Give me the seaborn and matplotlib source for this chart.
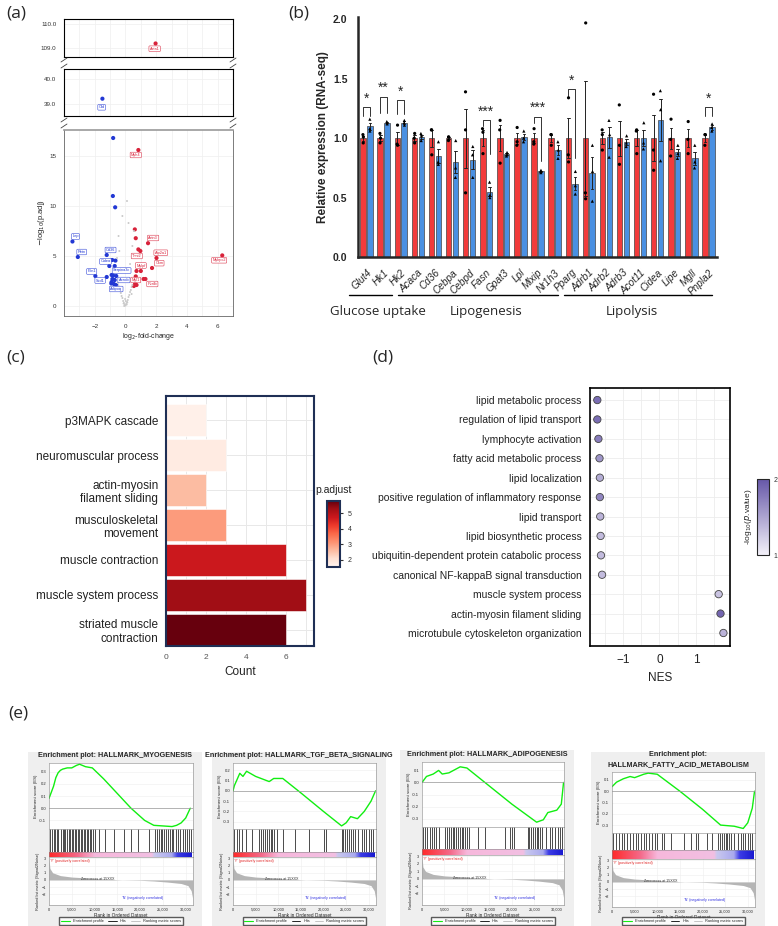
import numpy as np
import pandas as pd
import seaborn as sns
import matplotlib.pyplot as plt
from matplotlib.colors import LinearSegmentedColormap, Normalize
from matplotlib.cm import ScalarMappable
from matplotlib.lines import Line2D
from matplotlib.ticker import FormatStrFormatter, MultipleLocator

sns.set_style('white')
plt.rcParams['font.family'] = ['Liberation Sans', 'DejaVu Sans']

W, H = 778, 926


def box(x0, y0, x1, y1):
    # pixel box (top-left origin) -> figure fraction rect
    return [x0 / W, 1 - y1 / H, (x1 - x0) / W, (y1 - y0) / H]


# ---------------- (a) volcano data ----------------
down_x = [-0.8, -0.82, -0.67, -3.45, -3.1, -1.22, -0.86, -0.65, -1.05, -0.7, -1.96, -1.22,
          -0.9, -0.8, -0.6, -0.85, -0.7, -0.9, -0.75, -0.6, -0.92, -1.5]
down_y = [16.8, 11.0, 9.87, 6.45, 4.9, 5.1, 4.6, 4.54, 4.0, 4.0, 3.0, 2.9,
          3.1, 3.05, 3.0, 2.7, 2.6, 2.4, 2.2, 2.1, 2.25, 39.2]
up_x = [1.96, 0.84, 0.61, 0.67, 1.47, 0.84, 0.97, 2.02, 1.73, 0.72, 1.0, 0.67,
        1.18, 1.3, 0.63, 0.72, 0.55, 6.3]
up_y = [109.17, 15.6, 7.66, 6.78, 6.28, 5.66, 5.5, 4.8, 3.8, 3.5, 3.5, 2.96,
        2.7, 2.7, 2.24, 2.1, 2.0, 5.06]
ns_x = [-0.05, 0.05, -0.1, 0.1, -0.15, 0.15, -0.2, 0.2, -0.25, 0.25, -0.3, 0.3, -0.35, 0.35,
        -0.4, 0.4, -0.45, 0.45, -0.5, 0.5, 0.0, 0.02, -0.02, -0.3, 0.3, -0.4, 0.45, -0.55,
        0.55, 0.2, -0.2, 0.1, -0.45, 0.4, -0.08, 0.08, -0.12, 0.12]
ns_y = [0.1, 0.2, 0.3, 0.4, 0.5, 0.6, 0.8, 0.9, 1.0, 1.1, 1.3, 1.4, 1.5, 1.6,
        1.8, 1.9, 2.0, 2.1, 2.3, 2.4, 0.05, 0.5, 0.7, 3.5, 4.2, 5.5, 6.0, 4.8,
        7.5, 8.3, 9.0, 10.5, 7.0, 1.2, 0.0, 0.15, 0.25, 0.35]
lab_text = ['Acta1', 'Cfd', 'Lep', 'Retn', 'Cd36', 'Cidea', 'Plin1', 'Scd1', 'Serpina3c',
            'Acacb', 'Adipoq', 'Myh4', 'Actn3', 'Tnni2', 'Atp2a1', 'Mylpf', 'Ckm', 'Myl1',
            'Pvalb', 'Mybpc2']
lab_x = [1.9, -1.55, -3.25, -2.85, -0.97, -1.3, -2.2, -1.65, -0.25, -0.1, -0.6, 0.67, 1.8,
         0.74, 2.3, 1.0, 2.2, 0.67, 1.75, 6.1]
lab_y = [108.95, 38.85, 6.95, 5.4, 5.6, 4.45, 3.45, 2.55, 3.55, 2.6, 1.7, 15.1, 6.8, 5.0,
         5.33, 4.05, 4.28, 2.6, 2.2, 4.57]
lab_up = [True, False] + [False] * 9 + [True] * 9

# ---------------- (b) RNA-seq expression ----------------
genes = ['Glut4', 'Hk1', 'Hk2', 'Acaca', 'Cd36', 'Cebpa', 'Cebpd', 'Fasn', 'Gpat3', 'Lpl',
         'Mlxip', 'Nr1h3', 'Pparg', 'Adrb1', 'Adrb2', 'Adrb3', 'Acot11', 'Cidea', 'Lipe',
         'Mgll', 'Pnpla2']
ctrl_reps = [[0.96, 1.01, 1.03], [0.96, 1.0, 1.04], [0.94, 0.95, 1.11], [0.96, 1.0, 1.04],
             [0.86, 1.07, 1.07], [0.98, 1.01, 1.01], [0.54, 1.07, 1.39], [0.87, 1.05, 1.08],
             [0.79, 1.07, 1.15], [0.97, 0.94, 1.09], [0.95, 0.97, 1.08], [0.94, 1.03, 1.03],
             [0.8, 0.86, 1.34], [0.49, 0.54, 1.97], [0.9, 1.03, 1.07], [0.78, 0.94, 1.28],
             [0.87, 1.06, 1.07], [0.73, 0.9, 1.37], [0.85, 0.99, 1.16], [0.87, 0.99, 1.14],
             [0.94, 1.03, 1.03]]
trt_reps = [[1.06, 1.08, 1.16], [1.12, 1.13, 1.14], [1.11, 1.13, 1.15], [0.98, 1.02, 1.04],
            [0.78, 0.8, 0.97], [0.67, 0.75, 0.98], [0.67, 0.86, 0.93], [0.5, 0.52, 0.63],
            [0.85, 0.86, 0.88], [0.97, 1.0, 1.06], [0.71, 0.72, 0.73], [0.83, 0.9, 0.97],
            [0.53, 0.6, 0.72], [0.47, 0.72, 0.94], [0.84, 1.03, 1.15], [0.93, 0.96, 1.02],
            [0.91, 0.96, 1.13], [0.81, 1.24, 1.40], [0.83, 0.87, 0.94], [0.75, 0.8, 0.94],
            [1.06, 1.09, 1.12]]
sig_idx = [0, 1, 2, 7, 10, 12, 20]
sig_text = ['*', '**', '*', '***', '***', '*', '*']
sig_top = [1.26, 1.35, 1.32, 1.15, 1.18, 1.41, 1.26]
sig_left = [1.19, 1.21, 1.2, 1.1, 1.13, 1.35, 1.19]
sig_right = [1.19, 1.21, 1.2, 0.87, 0.81, 0.83, 1.19]
group_names = ['Glucose uptake', 'Lipogenesis', 'Lipolysis']

# ---------------- (c) GO enrichment ----------------
go_terms = ['p3MAPK cascade', 'neuromuscular process', 'actin-myosin\nfilament sliding',
            'musculoskeletal\nmovement', 'muscle contraction', 'muscle system process',
            'striated muscle\ncontraction']
go_count = [2, 3, 2, 3, 6, 7, 6]
go_padj = [1.68, 1.8, 2.6, 3.03, 4.7, 5.26, 5.77]

# ---------------- (d) GSEA dot plot ----------------
gs_terms = ['lipid metabolic process', 'regulation of lipid transport', 'lymphocyte activation',
            'fatty acid metabolic process', 'lipid localization',
            'positive regulation of inflammatory response', 'lipid transport',
            'lipid biosynthetic process', 'ubiquitin-dependent protein catabolic process',
            'canonical NF-kappaB signal transduction', 'muscle system process',
            'actin-myosin filament sliding', 'microtubule cytoskeleton organization']
gs_nes = [-1.70, -1.70, -1.67, -1.64, -1.63, -1.63, -1.62, -1.61, -1.60, -1.57, 1.62, 1.67, 1.75]
gs_logp = [1.85, 1.85, 1.75, 1.6, 1.45, 1.7, 1.4, 1.35, 1.35, 1.35, 1.3, 1.9, 1.4]

# ---------------- (e) GSEA enrichment plots ----------------
gsea_titles = ['Enrichment plot: HALLMARK_MYOGENESIS',
               'Enrichment plot: HALLMARK_TGF_BETA_SIGNALING',
               'Enrichment plot: HALLMARK_ADIPOGENESIS',
               'Enrichment plot:\nHALLMARK_FATTY_ACID_METABOLISM']
es_rank = [
    [0, 500, 1000, 1500, 2000, 2500, 3000, 4000, 5000, 6000, 6700, 8000, 9500, 12000, 15000,
     18000, 21000, 23000, 25000, 27000, 28000, 29000, 30000, 31000],
    [0, 300, 800, 1500, 2200, 3000, 5000, 8000, 9000, 11000, 15000, 20000, 24000, 25000, 26000,
     27500, 29000, 30500, 31500],
    [0, 1000, 2500, 3700, 4500, 6000, 8500, 10000, 15000, 20000, 25500, 27000, 28000, 30000,
     31000, 31500],
    [0, 1000, 2500, 4000, 5000, 7000, 8000, 10000, 15000, 20000, 24000, 27000, 29000, 30000,
     31000, 31500]]
es_score = [
    [0.08, 0.13, 0.18, 0.25, 0.29, 0.31, 0.32, 0.33, 0.33, 0.35, 0.36, 0.34, 0.33, 0.24, 0.12,
     0.0, -0.1, -0.14, -0.145, -0.15, -0.14, -0.12, -0.08, 0.0],
    [0.0, 0.05, 0.1, 0.17, 0.14, 0.19, 0.14, 0.09, 0.12, 0.12, -0.02, -0.2, -0.34, -0.31, -0.25,
     -0.27, -0.2, -0.1, 0.0],
    [0.0, 0.05, 0.07, 0.1, 0.07, 0.08, 0.13, 0.12, -0.03, -0.18, -0.33, -0.31, -0.25, -0.23,
     -0.18, 0.0],
    [0.04, 0.08, 0.11, 0.13, 0.12, 0.15, 0.16, 0.15, 0.0, -0.16, -0.3, -0.31, -0.33, -0.28,
     -0.15, 0.0]]
hits = [
    [150, 700, 1000, 1400, 1700, 2000, 2600, 3000, 3300, 3600, 4000, 4300, 4700, 5000, 5300,
     5600, 6000, 6300, 6600, 7000, 7300, 7600, 8000, 8300, 8600, 9000, 9300, 9700, 10100, 11000,
     12300, 14200, 16500, 18000, 19500, 22000, 23300, 23700, 24100, 24500, 24900, 25300, 25700,
     26100, 26500, 26900, 27300, 27800, 28300, 28800, 29300, 29800, 30300, 30800, 31200],
    [300, 800, 1400, 2000, 2800, 4300, 5800, 6200, 6700, 7100, 7500, 7900, 8300, 8700, 9100,
     9800, 11000, 13700, 16800, 20000, 20500, 24000, 24400, 24800, 25200, 25600, 26000, 26500,
     27000, 27600, 28500, 29000, 29500, 30000, 30500, 31000],
    [200, 700, 1200, 1700, 2200, 2700, 3200, 3700, 5200, 5600, 6000, 6400, 6800, 7200, 7600,
     8000, 8400, 8800, 9200, 9600, 10000, 10400, 12500, 14000, 18500, 19500, 20000, 20500,
     23500, 23900, 24300, 24700, 25100, 25500, 25900, 26300, 26700, 27500, 28500, 29000, 29500,
     30200, 30800, 31200],
    [300, 800, 1500, 2200, 2700, 3300, 3900, 4600, 5200, 5800, 6400, 7000, 7600, 8200, 8800,
     9400, 10000, 11000, 11500, 13000, 16000, 17500, 18500, 19000, 21000, 22000, 23500, 23900,
     24300, 24700, 25100, 25500, 25900, 26300, 27000, 27800, 28500, 29000, 29500, 30000, 30500,
     31000]]
es_ticks = [[-0.1, 0.0, 0.1, 0.2, 0.3], [-0.3, -0.2, -0.1, 0.0, 0.1, 0.2],
            [-0.3, -0.2, -0.1, 0.0, 0.1], [-0.3, -0.2, -0.1, 0.0, 0.1]]
metric_rank = [0, 200, 800, 2500, 5000, 9000, 13000, 16000, 20000, 23000, 26000, 29000, 30500,
               31200, 31500]
metric_val = [3.0, 1.6, 1.0, 0.6, 0.4, 0.25, 0.1, 0.0, -0.05, -0.15, -0.3, -0.5, -0.8, -1.5, -2.5]

# =====================================================================
fig = plt.figure(figsize=(W / 100, H / 100), dpi=100)

# ---------------- (a) ----------------
volc = pd.DataFrame({
    'lfc': down_x + up_x + ns_x,
    'nlp': down_y + up_y + ns_y,
    'dir': ['down'] * len(down_x) + ['up'] * len(up_x) + ['ns'] * len(ns_x)})
seg_boxes = [(64, 19, 233, 57), (64, 69, 233, 116), (64, 130, 233, 316)]
seg_lims = [(108.6, 110.2), (38.5, 40.4), (-1.0, 17.6)]
seg_ticks = [[109, 110], [39, 40], [0, 5, 10, 15]]
for k, (bx, lim, tk) in enumerate(zip(seg_boxes, seg_lims, seg_ticks)):
    ax = fig.add_axes(box(*bx))
    sns.scatterplot(data=volc, x='lfc', y='nlp', hue='dir', size='dir',
                    palette={'down': '#2238d4', 'up': '#d8223a', 'ns': '#c9c9c9'},
                    sizes={'down': 9, 'up': 9, 'ns': 2}, linewidth=0, legend=False, ax=ax)
    ax.set_xlim(-4.0, 7.0)
    ax.set_ylim(*lim)
    ax.set_yticks(tk)
    ax.xaxis.set_major_locator(MultipleLocator(2))
    ax.xaxis.set_minor_locator(MultipleLocator(1))
    ax.grid(True, which='both', color='#efefef', lw=0.5)
    ax.set_axisbelow(True)
    ax.tick_params(labelsize=4.5, colors='#333', length=2, width=0.5)
    ax.set_xlabel('')
    ax.set_ylabel('')
    if k < 2:
        ax.yaxis.set_major_formatter(FormatStrFormatter('%.1f'))
        ax.tick_params(axis='x', bottom=False, labelbottom=False)
        for s in ax.spines.values():
            s.set_color('k')
            s.set_linewidth(0.8)
    else:
        ax.set_xticks([-2, 0, 2, 4, 6])
        for s in ax.spines.values():
            s.set_color('#666')
            s.set_linewidth(0.6)
        ax.spines['top'].set_color('#999')
        ax.spines['top'].set_linewidth(1.2)
        ax.set_xlabel('log$_2$-fold-change', fontsize=5, labelpad=2)
        ax.set_ylabel('$-$log$_{10}$(p.adj)', fontsize=5.5, labelpad=2)
    for t, x, y, u in zip(lab_text, lab_x, lab_y, lab_up):
        if lim[0] < y < lim[1]:
            col = '#d8223a' if u else '#2238d4'
            ax.text(x, y, t, fontsize=2.8, color=col, ha='center', va='center',
                    bbox=dict(boxstyle='round,pad=0.2', fc='white', ec=col, lw=0.4, alpha=0.9))
# axis break marks
for yb in (63, 123):
    for xb in (64, 233):
        for dy in (-3, 3):
            fig.add_artist(Line2D([(xb - 3) / W, (xb + 3) / W],
                                  [1 - (yb + dy + 2) / H, 1 - (yb + dy - 2) / H],
                                  color='#444', lw=0.6))

# ---------------- (b) ----------------
rows = []
for g, c, t in zip(genes, ctrl_reps, trt_reps):
    rows += [(g, 'Control', v) for v in c]
    rows += [(g, 'Treated', v) for v in t]
expr = pd.DataFrame(rows, columns=['gene', 'group', 'value'])
hue_order = ['Control', 'Treated']
axb = fig.add_axes(box(358, 17, 717, 257))
sns.barplot(data=expr, x='gene', y='value', hue='group', hue_order=hue_order,
            palette={'Control': '#f23b3b', 'Treated': '#4a90e2'}, errorbar='se',
            capsize=0.3, err_kws={'linewidth': 0.7, 'color': '#222'}, edgecolor='#444',
            linewidth=0.5, width=0.8, gap=0.2, saturation=1, legend=False, ax=axb)
for grp, mk in zip(hue_order, ['o', '^']):
    sns.stripplot(data=expr[expr.group == grp], x='gene', y='value', hue='group',
                  hue_order=hue_order, dodge=True, palette={'Control': 'k', 'Treated': 'k'},
                  marker=mk, size=2.3, jitter=0.04, legend=False, ax=axb)
for i, st, top, le, ri in zip(sig_idx, sig_text, sig_top, sig_left, sig_right):
    axb.plot([i - 0.2, i - 0.2, i + 0.2, i + 0.2], [le, top, top, ri], color='#333', lw=0.7)
    axb.text(i, top + 0.015, st, ha='center', va='bottom', fontsize=10)
axb.set_xlim(-0.5, 20.5)
axb.set_ylim(0, 2.02)
axb.set_yticks([0, 0.5, 1.0, 1.5, 2.0])
axb.yaxis.set_major_formatter(FormatStrFormatter('%.1f'))
for lb in axb.get_yticklabels():
    lb.set_fontweight('bold')
axb.set_xticks(range(len(genes)))
axb.set_xticklabels(genes, rotation=45, ha='right', rotation_mode='anchor',
                    fontsize=7.2, fontstyle='italic')
axb.tick_params(axis='y', labelsize=7.5, width=1.5, length=4)
axb.tick_params(axis='x', width=1.2, length=4)
axb.set_xlabel('')
axb.set_ylabel('Relative expression (RNA-seq)', fontsize=8.5, fontweight='bold', labelpad=3)
sns.despine(ax=axb)
for s in ('left', 'bottom'):
    axb.spines[s].set_linewidth(1.8)
trans = axb.get_xaxis_transform()
for name, (a0, a1), xc in zip(group_names, [(-1.0, 1.5), (1.85, 11.2), (11.55, 20.2)],
                               [0.67, 7.0, 15.5]):
    axb.plot([a0, a1], [-0.158, -0.158], color='k', lw=1.0, transform=trans, clip_on=False)
    axb.text(xc, -0.2, name, transform=trans, ha='center', va='top', fontsize=9.5,
             family=['Open Sans', 'DejaVu Sans'])

# ---------------- (c) ----------------
navy = '#1f2f55'
reds = plt.get_cmap('Reds')
norm_c = Normalize(1.55, 5.77)
go = pd.DataFrame({'term': go_terms, 'count': go_count, 'padj': go_padj})
axc = fig.add_axes(box(166, 396, 314, 646))
sns.barplot(data=go, x='count', y='term', hue='term',
            palette={t: reds(norm_c(p)) for t, p in zip(go_terms, go_padj)},
            width=0.9, legend=False, edgecolor='white', linewidth=0.4, saturation=1, ax=axc)
axc.set_xlim(0, 7.4)
axc.set_ylim(6.46, -0.69)
axc.set_xticks([0, 2, 4, 6])
axc.xaxis.set_minor_locator(MultipleLocator(1))
axc.grid(True, which='both', color='#e8e8e8', lw=0.7)
axc.set_axisbelow(True)
axc.tick_params(axis='y', labelsize=8.5, labelcolor='#222', length=2, color='#bbb')
axc.tick_params(axis='x', labelsize=6, labelcolor='#555', length=2, color='#bbb')
axc.set_ylabel('')
axc.set_xlabel('Count', fontsize=8.5, color='#222')
for s in axc.spines.values():
    s.set_color(navy)
    s.set_linewidth(1.5)
caxc = fig.add_axes(box(327, 501, 340, 567))
cbc = fig.colorbar(ScalarMappable(norm_c, reds), cax=caxc, ticks=[2, 3, 4, 5])
cbc.ax.tick_params(labelsize=5, length=2, colors='#333')
cbc.outline.set_edgecolor(navy)
cbc.outline.set_linewidth(1.5)
fig.text(333 / W, 1 - 490 / H, 'p.adjust', ha='center', va='center', fontsize=7.5, color='#222')

# ---------------- (d) ----------------
purp = LinearSegmentedColormap.from_list('purp', ['#f3f1f9', '#6657a8'])
norm_d = Normalize(1, 2)
gs = pd.DataFrame({'term': gs_terms, 'NES': gs_nes, 'logp': gs_logp})
axd = fig.add_axes(box(590, 388, 730, 646))
sns.scatterplot(data=gs, x='NES', y='term', hue='logp', palette=purp, hue_norm=norm_d,
                s=28, edgecolor='#444', linewidth=0.6, legend=False, ax=axd)
axd.set_xlim(-1.9, 1.93)
axd.set_ylim(12.67, -0.62)
axd.set_xticks([-1, 0, 1])
axd.set_xticklabels(['\u22121', '0', '1'])
axd.xaxis.set_minor_locator(MultipleLocator(0.5))
axd.grid(True, which='both', color='#ececec', lw=0.6)
axd.set_axisbelow(True)
axd.tick_params(axis='y', labelsize=7.5, labelcolor='#222', length=2.5, width=0.8)
axd.tick_params(axis='x', labelsize=8.5, labelcolor='#222', length=2.5, width=0.8)
axd.set_ylabel('')
axd.set_xlabel('NES', fontsize=8.5, color='#222')
for s in axd.spines.values():
    s.set_color('k')
    s.set_linewidth(1.2)
caxd = fig.add_axes(box(757, 479, 769, 555))
cbd = fig.colorbar(ScalarMappable(norm_d, purp), cax=caxd, ticks=[1, 2])
cbd.ax.tick_params(labelsize=5, length=0, colors='#333')
cbd.outline.set_linewidth(0.8)
caxd.yaxis.set_label_position('left')
cbd.set_label('-log$_{10}$($p$.value)', fontsize=6, labelpad=2, rotation=90)

# ---------------- (e) ----------------
gsea_bg = [(28, 752, 202, 926), (212, 752, 386, 926), (400, 750, 574, 926), (591, 752, 765, 926)]
gsea_lay = [(49, 193, 763, 829, 852, 857, 905), (233, 376, 763, 829, 852, 857, 905),
            (422, 564, 762, 827, 849, 855, 905), (612, 755, 772, 833, 850, 859, 907)]
rank_cmap = LinearSegmentedColormap.from_list(
    'rank', [(0, '#ff2a2a'), (0.2, '#f46a8a'), (0.32, '#f7b8dc'), (0.72, '#f2bfe2'),
             (0.74, '#c9c8ee'), (0.86, '#a9a9ee'), (0.9, '#3c3ce6'), (1.0, '#1a1ad0')])
XMAX = 31600
for k in range(4):
    bx0, by0, bx1, by1 = gsea_bg[k]
    x0, x1, yt, ye, yh, yc, ym = gsea_lay[k]
    fig.add_artist(plt.Rectangle((bx0 / W, 1 - by1 / H), (bx1 - bx0) / W, (by1 - by0) / H,
                                 transform=fig.transFigure, fc='#efefef', ec='none', zorder=-1))
    fig.text((bx0 + bx1) / 2 / W, 1 - (yt - 4) / H, gsea_titles[k], ha='center', va='bottom',
             fontsize=5.2, fontweight='bold', linespacing=1.6)
    # ES curve
    ae = fig.add_axes(box(x0, yt, x1, ye))
    sns.lineplot(x=es_rank[k], y=es_score[k], color='#11ee11', lw=1.0, ax=ae)
    ae.axhline(0, color='#999', lw=0.5)
    ae.set_xlim(0, XMAX)
    lo, hi = min(es_ticks[k]), max(es_ticks[k])
    ae.set_ylim(lo - 0.07, hi + 0.07)
    ae.set_yticks(es_ticks[k])
    ae.yaxis.set_major_formatter(FormatStrFormatter('%.1f'))
    ae.set_xticks([])
    ae.grid(True, axis='y', color='#eeeeee', lw=0.4)
    ae.tick_params(labelsize=3, length=1, pad=1)
    ae.set_ylabel('Enrichment score (ES)', fontsize=3.2, labelpad=1)
    # hits
    ah = fig.add_axes(box(x0, ye, x1, yh))
    ah.vlines(hits[k], 0, 1, color='#1a1a1a', lw=0.55)
    ah.set_xlim(0, XMAX)
    ah.set_ylim(0, 1)
    ah.set_xticks([])
    ah.set_yticks([])
    # ranking colour bar
    ac = fig.add_axes(box(x0, yh, x1, yc))
    ac.imshow(np.linspace(0, 1, 256)[None, :], aspect='auto', cmap=rank_cmap,
              extent=(0, 31300, 0, 1))
    ac.set_xlim(0, XMAX)
    ac.set_xticks([])
    ac.set_yticks([])
    # ranked list metric
    am = fig.add_axes(box(x0, yc, x1, ym))
    am.fill_between(metric_rank, metric_val, 0, color='#b5b5b5', lw=0)
    am.set_xlim(0, XMAX)
    am.set_ylim(-3.5, 3.2)
    am.set_yticks([3, 2, 1, 0, -1, -2])
    am.set_xticks([0, 5000, 10000, 15000, 20000, 25000, 30000])
    am.set_xticklabels(['0', '5,000', '10,000', '15,000', '20,000', '25,000', '30,000'])
    am.grid(True, color='#eeeeee', lw=0.4)
    am.tick_params(labelsize=2.8, length=1, pad=1)
    am.set_xlabel('Rank in Ordered Dataset', fontsize=3.4, labelpad=1)
    am.set_ylabel('Ranked list metric (Signal2Noise)', fontsize=2.8, labelpad=1)
    am.text(300, 2.9, "'Y' (positively correlated)", fontsize=2.6, color='#e02020', va='top')
    am.text(7000, 0.1, 'Zero cross at 15XXX', fontsize=2.6, color='#333', va='center')
    am.text(16000, -2.5, "'N' (negatively correlated)", fontsize=2.6, color='#3030e0',
            va='center')
    for a in (ae, ah, ac, am):
        for s in a.spines.values():
            s.set_linewidth(0.4)
            s.set_color('#888')
    handles = [Line2D([], [], color='#11ee11', lw=0.8), Line2D([], [], color='k', lw=0.6),
               Line2D([], [], color='#bbb', lw=0.6)]
    fig.legend(handles, ['Enrichment profile', 'Hits', 'Ranking metric scores'], ncol=3,
               loc='center', bbox_to_anchor=((x0 + x1) / 2 / W, 1 - 921 / H), fontsize=2.8,
               frameon=True, fancybox=False, edgecolor='#333', handlelength=2.2,
               columnspacing=1.2, borderpad=0.4)

# panel labels
for lab, px, py in [('(a)', 6, 14), ('(b)', 288, 14), ('(c)', 6, 357), ('(d)', 372, 357),
                    ('(e)', 8, 713)]:
    fig.text(px / W, 1 - py / H, lab, fontsize=12.5, va='center', ha='left',
             family=['Open Sans', 'DejaVu Sans'])

fig.savefig('out.png', dpi=100)
